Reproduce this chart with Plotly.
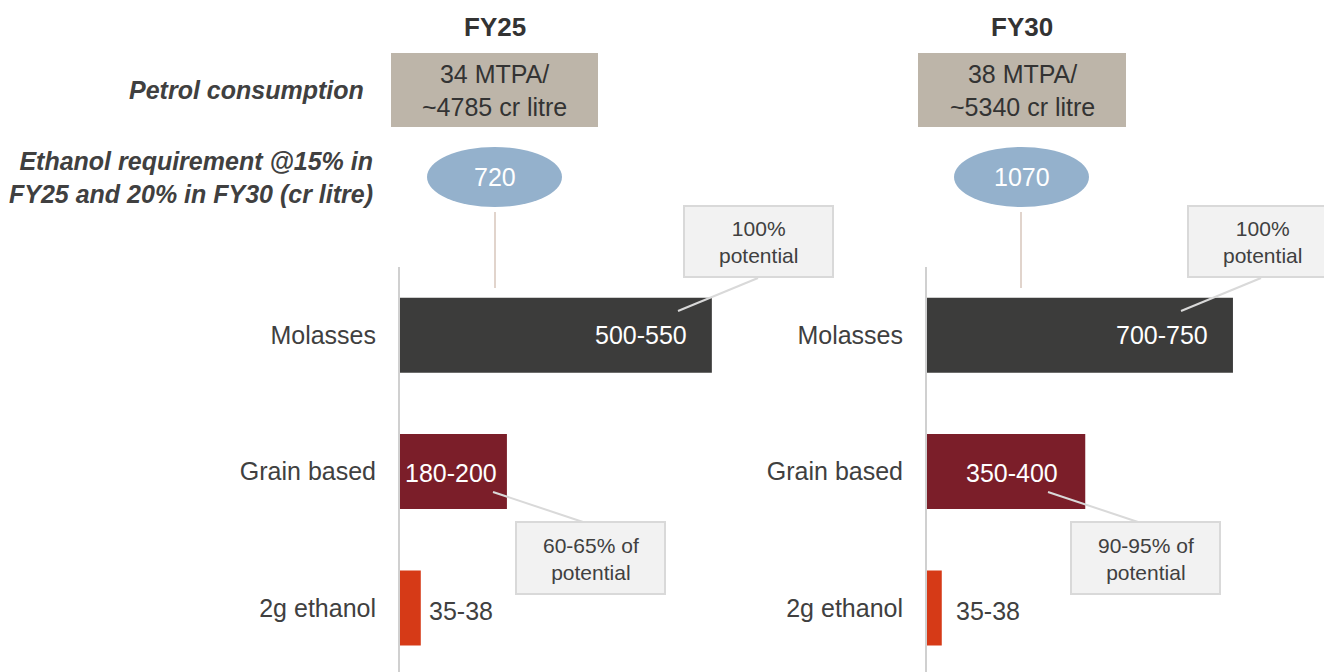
import plotly.graph_objects as go

# ---------------- data ----------------
categories = ["Molasses", "Grain based", "2g ethanol"]
fy25_values = [525, 180, 35]
fy30_values = [725, 375, 35]
fy25_labels = ["500-550", "180-200", "35-38"]
fy30_labels = ["700-750", "350-400", "35-38"]
panel_titles = ["FY25", "FY30"]
petrol_text = ["34 MTPA/<br>~4785 cr litre", "38 MTPA/<br>~5340 cr litre"]
ethanol_req = ["720", "1070"]
molasses_notes = ["100%<br>potential", "100%<br>potential"]
grain_notes = ["60-65% of<br>potential", "90-95% of<br>potential"]
row_titles = ["Petrol consumption",
              "Ethanol requirement @15% in<br>FY25 and 20% in FY30 (cr litre)"]

# ---------------- styles ----------------
bar_colors = ["#3c3c3b", "#7b1e29", "#d63a17"]
FONT = "Arial, Liberation Sans, sans-serif"
TXT = "#404040"
W, H = 1332, 672
OFF = 8  # page body margin


def px(x):
    return (x - OFF) / W


def py(y):
    return 1 - (y - OFF) / H


fig = go.Figure()

values = [fy25_values, fy30_values]
labels = [fy25_labels, fy30_labels]
axes = [("x", "y"), ("x2", "y2")]

for i in range(2):
    xa, ya = axes[i]
    fig.add_trace(go.Bar(
        y=categories, x=values[i], orientation="h",
        marker=dict(color=bar_colors, line=dict(width=0)),
        width=0.55, xaxis=xa, yaxis=ya, showlegend=False, hoverinfo="skip"))

    # value labels
    fig.add_annotation(x=values[i][0], y=categories[0], xref=xa, yref=ya,
                       text=labels[i][0], showarrow=False, xanchor="right", yanchor="middle",
                       xshift=-23, font=dict(family=FONT, size=25, color="white"))
    fig.add_annotation(x=values[i][1] / 2, y=categories[1], xref=xa, yref=ya,
                       text=labels[i][1], showarrow=False, xanchor="center", yanchor="middle",
                       xshift=(-2 if i == 0 else 6), yshift=-1,
                       font=dict(family=FONT, size=25, color="white"))
    fig.add_annotation(x=values[i][2], y=categories[2], xref=xa, yref=ya,
                       text=labels[i][2], showarrow=False, xanchor="left", yanchor="middle",
                       xshift=(6 if i == 0 else 12), yshift=-3,
                       font=dict(family=FONT, size=25, color=TXT))

# ---------------- axes ----------------
axis_common_y = dict(
    categoryorder="array", categoryarray=categories,
    range=[2.47, -0.5], autorange=False,
    domain=[py(672), py(267)], showgrid=False, zeroline=False,
    showline=True, linecolor="#d0d0d0", linewidth=2, ticks="",
    ticklabelstandoff=17,
    tickfont=dict(family=FONT, size=25, color=TXT), fixedrange=True)
axis_common_x = dict(visible=False, showgrid=False, zeroline=False, fixedrange=True)

fig.update_layout(
    width=W, height=H,
    margin=dict(l=0, r=0, t=0, b=0),
    paper_bgcolor="white", plot_bgcolor="white",
    xaxis=dict(axis_common_x, domain=[px(400), px(870)], range=[0, 470 / 0.594], anchor="y"),
    yaxis=dict(axis_common_y, anchor="x"),
    xaxis2=dict(axis_common_x, domain=[px(927), 1], range=[0, (W + OFF - 927) / 0.422], anchor="y2"),
    yaxis2=dict(axis_common_y, anchor="x2"),
)

shapes = []
ann = []


def text_at(x, y, text, size, color, xanchor="center", align="center"):
    ann.append(dict(x=px(x), y=py(y), xref="paper", yref="paper", text=text,
                    showarrow=False, xanchor=xanchor, yanchor="middle", align=align,
                    font=dict(family=FONT, size=size, color=color)))


header_cx = [495, 1022]
box_x = [(391, 598), (918, 1126)]
ell_x = [(427, 562), (954, 1089)]
conn_x = [495, 1021]
mol_box = [(684, 833), (1188, 1337)]
mol_line = [((678, 311), (758, 278)), ((1181, 311), (1261, 278))]
grain_box = [(516, 665), (1071, 1220)]
grain_line = [((493, 492), (583, 522)), ((1048, 492), (1138, 522))]

for i in range(2):
    # header
    text_at(header_cx[i], 27, "<b>%s</b>" % panel_titles[i], 26, "#333333")
    # petrol box
    x0, x1 = box_x[i]
    shapes.append(dict(type="rect", xref="paper", yref="paper",
                       x0=px(x0), x1=px(x1), y0=py(127), y1=py(53),
                       fillcolor="#bdb5a9", line=dict(width=0), layer="above"))
    text_at((x0 + x1) / 2, 90, petrol_text[i], 25, "#333333")
    # ellipse
    e0, e1 = ell_x[i]
    shapes.append(dict(type="circle", xref="paper", yref="paper",
                       x0=px(e0), x1=px(e1), y0=py(207), y1=py(147),
                       fillcolor="#94b1cc", line=dict(width=0), layer="above"))
    text_at((e0 + e1) / 2, 177, ethanol_req[i], 25, "white")
    # connector line
    shapes.append(dict(type="line", xref="paper", yref="paper",
                       x0=px(conn_x[i]), x1=px(conn_x[i]), y0=py(212), y1=py(288),
                       line=dict(color="#cdb8aa", width=1.2), layer="above"))
    # molasses callout
    (ax0, ay0), (ax1, ay1) = mol_line[i]
    shapes.append(dict(type="line", xref="paper", yref="paper",
                       x0=px(ax0), y0=py(ay0), x1=px(ax1), y1=py(ay1),
                       line=dict(color="#d9d9d9", width=2), layer="above"))
    b0, b1 = mol_box[i]
    shapes.append(dict(type="rect", xref="paper", yref="paper",
                       x0=px(b0), x1=px(b1), y0=py(277), y1=py(206),
                       fillcolor="#f2f2f2", line=dict(color="#d9d9d9", width=2),
                       layer="above"))
    text_at((b0 + b1) / 2, 242, molasses_notes[i], 21, TXT)
    # grain callout
    (gx0, gy0), (gx1, gy1) = grain_line[i]
    shapes.append(dict(type="line", xref="paper", yref="paper",
                       x0=px(gx0), y0=py(gy0), x1=px(gx1), y1=py(gy1),
                       line=dict(color="#d9d9d9", width=2), layer="above"))
    g0, g1 = grain_box[i]
    shapes.append(dict(type="rect", xref="paper", yref="paper",
                       x0=px(g0), x1=px(g1), y0=py(594), y1=py(522),
                       fillcolor="#f2f2f2", line=dict(color="#d9d9d9", width=2),
                       layer="above"))
    text_at((g0 + g1) / 2, 559, grain_notes[i], 21, TXT)

# row titles
text_at(366, 90, "<b><i>%s</i></b>" % row_titles[0], 25, TXT, xanchor="right")
text_at(375, 177, "<b><i>%s</i></b>" % row_titles[1], 25, TXT, xanchor="right", align="right")

fig.update_layout(shapes=shapes, annotations=list(fig.layout.annotations) + ann)

fig.write_html("out.html")
